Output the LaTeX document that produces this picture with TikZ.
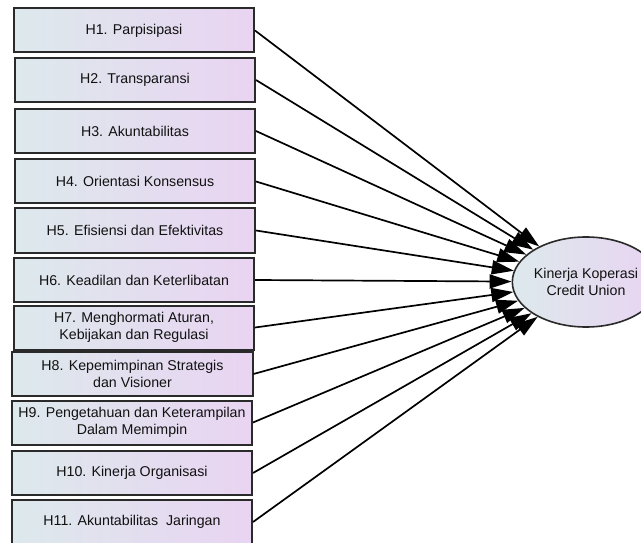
\documentclass[tikz,border=0pt]{standalone}
\usepackage{fontspec}
\setmainfont{Liberation Sans}
\usetikzlibrary{arrows.meta,shapes.geometric}
\definecolor{boxL}{HTML}{DDE9EC}
\definecolor{boxR}{HTML}{E9D4F2}
\definecolor{edge}{HTML}{2A2A2A}
\definecolor{txt}{HTML}{111111}
\tikzset{
  hbox/.style={draw=edge, line width=2bp, left color=boxL, right color=boxR,
    minimum width=240bp, minimum height=44bp, inner sep=0pt, align=center,
    text=txt, font=\fontsize{14.2bp}{16.5bp}\selectfont},
  target/.style={ellipse, draw=edge, line width=1.6bp, left color=boxL, right color=boxR,
    minimum width=114bp, minimum height=90bp, inner sep=0pt, align=center,
    text=txt, font=\fontsize{14.2bp}{17bp}\selectfont},
  link/.style={line width=1.7bp, black, -{Triangle[length=22bp,width=14bp]}}
}
\begin{document}
\begin{tikzpicture}[x=1bp,y=-1bp]
\useasboundingbox (0,0) rectangle (641,543);
\node[hbox] (h1) at (134,30.5) {H1. Parpisipasi};
\node[hbox] (h2) at (135,80) {H2. Transparansi};
\node[hbox] (h3) at (135,131) {H3. Akuntabilitas};
\node[hbox] (h4) at (135,181.5) {H4. Orientasi Konsensus};
\node[hbox] (h5) at (135,230.5) {H5. Efisiensi dan Efektivitas};
\node[hbox] (h6) at (134,280) {H6. Keadilan dan Keterlibatan};
\node[hbox] (h7) at (134,327.5) {H7. Menghormati Aturan,\\Kebijakan dan Regulasi};
\node[hbox] (h8) at (132.5,374) {H8. Kepemimpinan Strategis\\dan Visioner};
\node[hbox] (h9) at (132,422.5) {H9. Pengetahuan dan Keterampilan\\Dalam Memimpin};
\node[hbox] (h10) at (132,473) {H10. Kinerja Organisasi};
\node[hbox] (h11) at (132,522) {H11. Akuntabilitas\ \ Jaringan};
\node[target] (y) at (586,282) {Kinerja Koperasi\\Credit Union};
\foreach \i in {1,...,11} {
  \draw[link] (h\i.east) -- (y);
}
\end{tikzpicture}
\end{document}
